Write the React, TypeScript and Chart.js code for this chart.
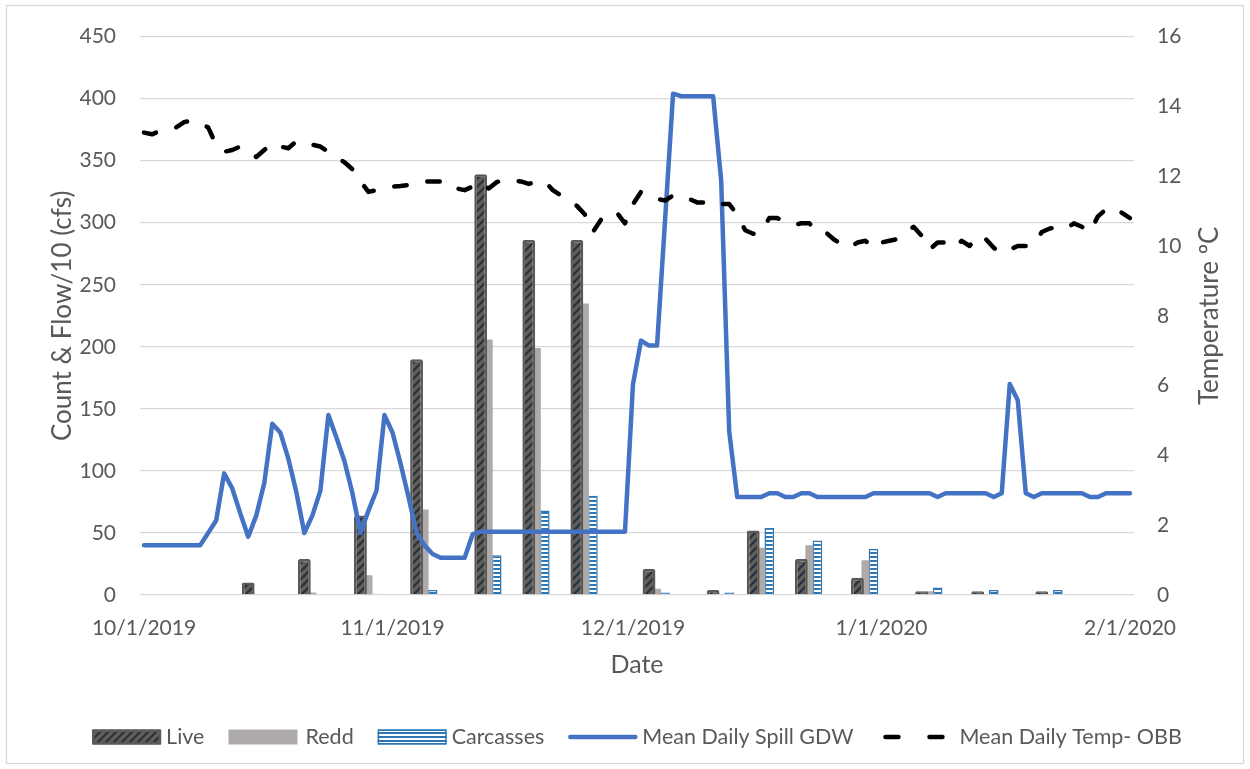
import React, { useEffect, useRef } from "react";
import { Chart, registerables } from "chart.js";

Chart.register(...registerables);

// ---- x axis (days since 10/1/2019) ----
const tickDays = [0, 31, 61, 92, 123];
const tickLabels = ["10/1/2019", "11/1/2019", "12/1/2019", "1/1/2020", "2/1/2020"];

// ---- survey bars ----
const surveyDays = [14, 21, 28, 35, 43, 49, 55, 64, 72, 77, 83, 90, 98, 105, 113];
const live = [10, 29, 64, 190, 339, 286, 286, 21, 4, 52, 29, 14, 3, 3, 3];
const redd = [0, 2, 16, 69, 206, 199, 235, 5, 0, 38, 40, 28, 3, 0, 0];
const carcasses = [0, 0, 1, 4, 32, 68, 80, 2, 2, 54, 44, 37, 6, 4, 4];

// ---- daily spill (flow/10 cfs), day 0 = 10/1/2019 ----
const spill = [
  40, 40, 40, 40, 40, 40, 40, 40, 50, 60,
  98, 86, 66, 47, 64, 90, 138, 131, 110, 83,
  50, 64, 84, 145, 127, 108, 82, 50, 68, 84,
  145, 131, 106, 79, 50, 40, 33, 30, 30, 30,
  30, 49, 51, 51, 51, 51, 51, 51, 51, 51,
  51, 51, 51, 51, 51, 51, 51, 51, 51, 51,
  51, 170, 205, 201, 201, 302, 404, 402, 402, 402,
  402, 402, 334, 132, 79, 79, 79, 79, 82, 82,
  79, 79, 82, 82, 79, 79, 79, 79, 79, 79,
  79, 82, 82, 82, 82, 82, 82, 82, 82, 79,
  82, 82, 82, 82, 82, 82, 79, 82, 170, 157,
  82, 79, 82, 82, 82, 82, 82, 82, 79, 79,
  82, 82, 82, 82,
];

// ---- daily temperature (°C) ----
const temp = [
  13.25, 13.2, 13.3, 13.35, 13.4, 13.55, 13.6, 13.5, 13.4, 12.9,
  12.7, 12.75, 12.85, 12.7, 12.55, 12.75, 12.95, 12.85, 12.8, 13.0,
  12.95, 12.9, 12.85, 12.7, 12.55, 12.4, 12.2, 11.85, 11.55, 11.6,
  11.65, 11.7, 11.72, 11.75, 11.8, 11.85, 11.85, 11.85, 11.83, 11.65,
  11.6, 11.7, 11.83, 11.65, 11.83, 11.9, 11.88, 11.85, 11.78, 11.85,
  11.85, 11.6, 11.45, 11.3, 11.15, 10.9, 10.4, 10.75, 10.95, 10.95,
  10.65, 11.2, 11.55, 11.45, 11.35, 11.3, 11.45, 11.45, 11.35, 11.25,
  11.25, 11.3, 11.2, 11.2, 10.9, 10.45, 10.35, 10.4, 10.8, 10.8,
  10.7, 10.6, 10.65, 10.65, 10.4, 10.4, 10.2, 10.05, 9.95, 10.1,
  10.15, 9.93, 10.1, 10.15, 10.2, 10.4, 10.55, 10.3, 9.9, 10.1,
  10.1, 9.95, 10.15, 10.0, 10.3, 10.2, 9.95, 9.8, 9.9, 10.0,
  10.0, 10.05, 10.4, 10.5, 10.55, 10.5, 10.65, 10.55, 10.4, 10.85,
  11.05, 11.1, 10.95, 10.8,
];

const FONT = "Lato";
const TEXT = "#595959";
const GRID = "#d9d9d9";
const BLUE_LINE = "#4472C4";
const BLUE_BAR = "#2E75B6";
const LIVE_BORDER = "#595959";
const REDD_COLOR = "#AEAAAA";

function makeLivePattern(): CanvasPattern | string {
  const c = document.createElement("canvas");
  c.width = 8;
  c.height = 8;
  const g = c.getContext("2d");
  if (!g) return "#595959";
  g.fillStyle = "#5f5f5f";
  g.fillRect(0, 0, 8, 8);
  g.strokeStyle = "#2f2f2f";
  g.lineWidth = 2.2;
  g.beginPath();
  g.moveTo(-2, 10);
  g.lineTo(10, -2);
  g.moveTo(6, 10);
  g.lineTo(10, 6);
  g.moveTo(-2, 2);
  g.lineTo(2, -2);
  g.stroke();
  return g.createPattern(c, "repeat") || "#595959";
}

function makeCarcPattern(): CanvasPattern | string {
  const c = document.createElement("canvas");
  c.width = 4;
  c.height = 4;
  const g = c.getContext("2d");
  if (!g) return BLUE_BAR;
  g.fillStyle = "#ffffff";
  g.fillRect(0, 0, 4, 4);
  g.fillStyle = BLUE_BAR;
  g.fillRect(0, 0, 4, 2);
  return g.createPattern(c, "repeat") || BLUE_BAR;
}

export default function App() {
  const ref = useRef<HTMLCanvasElement | null>(null);

  useEffect(() => {
    const canvas = ref.current;
    if (!canvas) return;
    const livePattern = makeLivePattern();
    const carcPattern = makeCarcPattern();

    const extras = {
      id: "extras",
      beforeDraw(chart: any) {
        const ctx = chart.ctx as CanvasRenderingContext2D;
        ctx.save();
        ctx.fillStyle = "#ffffff";
        ctx.fillRect(0, 0, chart.width, chart.height);
        ctx.strokeStyle = GRID;
        ctx.lineWidth = 1.3;
        ctx.strokeRect(6.5, 5.5, chart.width - 13, chart.height - 11);
        ctx.restore();
      },
      afterDraw(chart: any) {
        const ctx = chart.ctx as CanvasRenderingContext2D;
        const area = chart.chartArea;
        // right axis title (reads bottom-to-top)
        ctx.save();
        ctx.font = `26px ${FONT}`;
        ctx.fillStyle = TEXT;
        ctx.textAlign = "center";
        ctx.textBaseline = "middle";
        ctx.translate(area.right + 76, (area.top + area.bottom) / 2);
        ctx.rotate(-Math.PI / 2);
        ctx.fillText("Temperature ºC", 0, 0);
        ctx.restore();

        // legend
        const items = chart.data.datasets.map((d: any) => d.label as string);
        ctx.save();
        ctx.font = `21.5px ${FONT}`;
        ctx.textBaseline = "middle";
        ctx.textAlign = "left";
        const sw = 69;
        const tgap = 5;
        const igap = 24;
        const extra = [0, 3, 0, 0, 8];
        let total = 0;
        items.forEach((t: string, i: number) => {
          total += sw + tgap + extra[i] + ctx.measureText(t).width;
          if (i < items.length - 1) total += igap;
        });
        let x = (area.left + area.right) / 2 - total / 2;
        const y = 737;
        items.forEach((t: string, i: number) => {
          if (i === 0) {
            ctx.fillStyle = livePattern as any;
            ctx.fillRect(x, y - 7.5, sw, 15);
            ctx.strokeStyle = LIVE_BORDER;
            ctx.lineWidth = 2.5;
            ctx.lineJoin = "round";
            ctx.strokeRect(x + 1.25, y - 6.25, sw - 2.5, 12.5);
          } else if (i === 1) {
            ctx.fillStyle = REDD_COLOR;
            ctx.fillRect(x, y - 7.5, sw, 15);
          } else if (i === 2) {
            ctx.fillStyle = carcPattern as any;
            ctx.fillRect(x, y - 7.5, sw, 15);
            ctx.strokeStyle = BLUE_BAR;
            ctx.lineWidth = 1.5;
            ctx.strokeRect(x + 0.75, y - 6.75, sw - 1.5, 13.5);
          } else if (i === 3) {
            ctx.strokeStyle = BLUE_LINE;
            ctx.lineWidth = 4.5;
            ctx.lineCap = "round";
            ctx.beginPath();
            ctx.moveTo(x + 2, y);
            ctx.lineTo(x + sw - 2, y);
            ctx.stroke();
          } else {
            ctx.strokeStyle = "#000000";
            ctx.lineWidth = 4.5;
            ctx.lineCap = "round";
            ctx.beginPath();
            ctx.moveTo(x + 8, y);
            ctx.lineTo(x + 21, y);
            ctx.moveTo(x + 52, y);
            ctx.lineTo(x + 65, y);
            ctx.stroke();
          }
          ctx.fillStyle = TEXT;
          const tx = x + sw + tgap + extra[i];
          ctx.fillText(t, tx, y);
          x = tx + ctx.measureText(t).width + igap;
        });
        ctx.restore();
      },
    };

    const tickFont = { family: FONT, size: 21 };

    const chart = new Chart(canvas, {
      type: "bar",
      data: {
        datasets: [
          {
            type: "bar",
            label: "Live",
            data: surveyDays.map((d, i) => ({ x: d, y: live[i] })),
            backgroundColor: livePattern as any,
            borderColor: LIVE_BORDER,
            borderWidth: 2.5,
            borderRadius: 2,
            categoryPercentage: 0.6,
            barPercentage: 1.6,
            yAxisID: "y",
            order: 2,
          },
          {
            type: "bar",
            label: "Redd",
            data: surveyDays.map((d, i) => ({ x: d, y: redd[i] })),
            backgroundColor: REDD_COLOR,
            borderWidth: 0,
            categoryPercentage: 0.6,
            barPercentage: 1.0,
            yAxisID: "y",
            order: 2,
          },
          {
            type: "bar",
            label: "Carcasses",
            data: surveyDays.map((d, i) => ({ x: d, y: carcasses[i] })),
            backgroundColor: carcPattern as any,
            borderColor: BLUE_BAR,
            borderWidth: 1.5,
            categoryPercentage: 0.6,
            barPercentage: 1.2,
            yAxisID: "y",
            order: 2,
          },
          {
            type: "line",
            label: "Mean Daily Spill GDW",
            data: spill.map((v, i) => ({ x: i, y: v })),
            borderColor: BLUE_LINE,
            backgroundColor: BLUE_LINE,
            borderWidth: 4.5,
            pointRadius: 0,
            tension: 0,
            borderJoinStyle: "round",
            borderCapStyle: "round",
            fill: false,
            yAxisID: "y",
            order: 1,
          },
          {
            type: "line",
            label: "Mean Daily Temp- OBB",
            data: temp.map((v, i) => ({ x: i, y: v })),
            borderColor: "#000000",
            backgroundColor: "#000000",
            borderWidth: 4.5,
            borderDash: [12.5, 21],
            borderCapStyle: "round",
            borderJoinStyle: "round",
            pointRadius: 0,
            tension: 0,
            fill: false,
            yAxisID: "y1",
            order: 0,
          },
        ] as any,
      },
      options: {
        responsive: false,
        maintainAspectRatio: false,
        animation: false,
        devicePixelRatio: 1,
        layout: { padding: { top: 34, left: 0, right: 0, bottom: 0 } },
        plugins: {
          legend: { display: false },
          tooltip: { enabled: false },
        },
        scales: {
          x: {
            type: "linear",
            min: -0.5,
            max: 123.5,
            offset: false,
            grid: { display: false, drawTicks: false, offset: false },
            border: { display: false },
            ticks: {
              autoSkip: false,
              maxRotation: 0,
              minRotation: 0,
              padding: 21,
              color: TEXT,
              font: tickFont,
              callback: (_v: any, i: number) => tickLabels[i],
            },
            afterBuildTicks: (s: any) => {
              s.ticks = tickDays.map((v) => ({ value: v }));
            },
            afterFit: (s: any) => {
              s.height = 174;
            },
            title: {
              display: true,
              text: "Date",
              color: TEXT,
              font: { family: FONT, size: 25 },
              padding: { top: 0, bottom: 89 },
            },
          },
          y: {
            type: "linear",
            position: "left",
            min: 0,
            max: 450,
            ticks: { stepSize: 50, padding: 24, color: TEXT, font: tickFont },
            grid: { color: GRID, lineWidth: 1.3, drawTicks: false },
            border: { display: false },
            afterFit: (s: any) => {
              s.width = 140;
            },
            title: {
              display: true,
              text: "Count & Flow/10 (cfs)",
              color: TEXT,
              font: { family: FONT, size: 26 },
              padding: { top: 47, bottom: 0 },
            },
          },
          y1: {
            type: "linear",
            position: "right",
            min: 0,
            max: 16,
            ticks: { stepSize: 2, padding: 23, color: TEXT, font: tickFont },
            grid: { display: false, drawTicks: false },
            border: { display: false },
            afterFit: (s: any) => {
              s.width = 116;
            },
          },
        },
      } as any,
      plugins: [extras],
    });

    return () => {
      chart.destroy();
    };
  }, []);

  return (
    <div style={{ position: "absolute", left: 0, top: 0, width: 1250, height: 769 }}>
      <canvas ref={ref} width={1250} height={769} style={{ width: 1250, height: 769, display: "block" }} />
    </div>
  );
}
